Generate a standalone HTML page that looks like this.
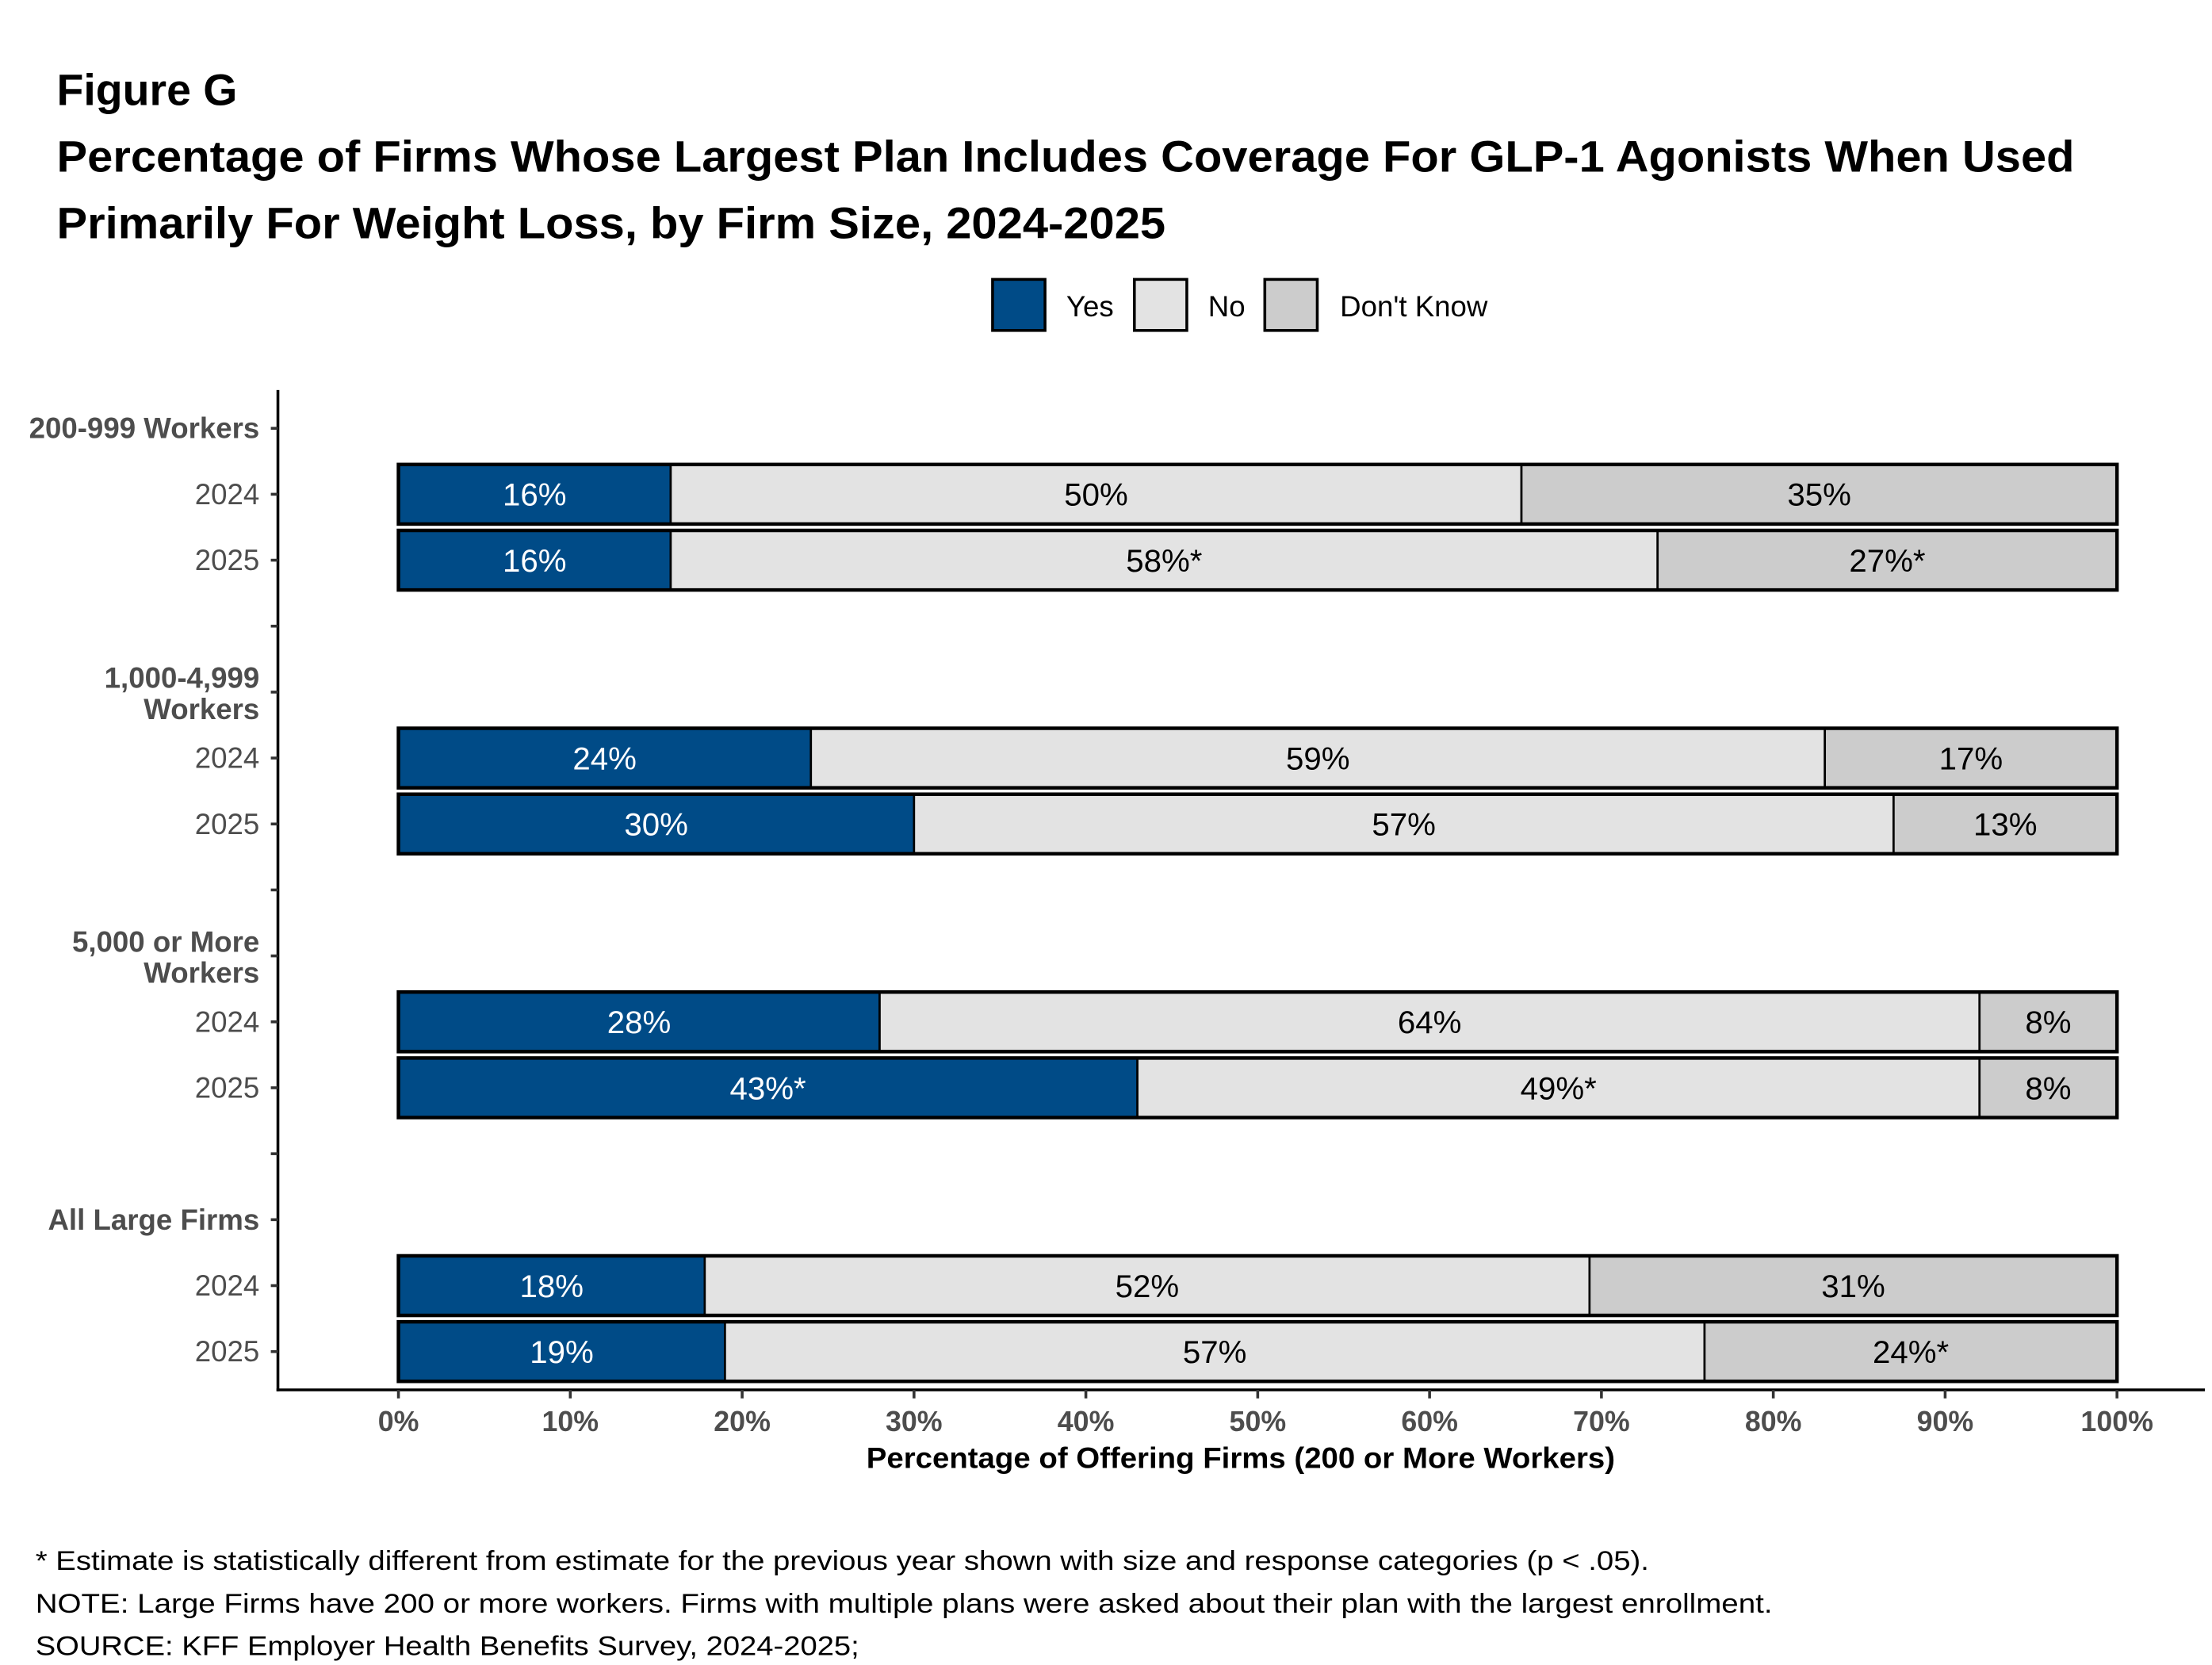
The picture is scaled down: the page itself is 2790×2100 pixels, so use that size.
<!DOCTYPE html>
<html><head><meta charset="utf-8"><style>
html,body{margin:0;padding:0;background:#fff;}
svg{display:block;font-family:"Liberation Sans",Arial,sans-serif;}
</style></head><body>
<svg id="chart" width="2790" height="2100" viewBox="0 0 1560 1174" preserveAspectRatio="none" xmlns="http://www.w3.org/2000/svg">
<g font-weight="bold" fill="#000" font-size="31">
<text x="40" y="74">Figure G</text>
<text x="40" y="121" textLength="1423" lengthAdjust="spacingAndGlyphs">Percentage of Firms Whose Largest Plan Includes Coverage For GLP-1 Agonists When Used</text>
<text x="40" y="168" textLength="782" lengthAdjust="spacingAndGlyphs">Primarily For Weight Loss, by Firm Size, 2024-2025</text>
</g>
<g font-size="20.5" fill="#000">
<rect x="700" y="197" width="37" height="36" fill="#004b87" stroke="#000" stroke-width="2"/>
<text x="752" y="223">Yes</text>
<rect x="800" y="197" width="37" height="36" fill="#e3e3e3" stroke="#000" stroke-width="2"/>
<text x="852" y="223">No</text>
<rect x="892" y="197" width="37" height="36" fill="#cccccc" stroke="#000" stroke-width="2"/>
<text x="945" y="223">Don't Know</text>
</g>
<g id="plot"></g>
<g font-size="19" fill="#000">
<text x="25" y="1107" textLength="1138" lengthAdjust="spacingAndGlyphs">* Estimate is statistically different from estimate for the previous year shown with size and response categories (p &lt; .05).</text>
<text x="25" y="1137" textLength="1225" lengthAdjust="spacingAndGlyphs">NOTE: Large Firms have 200 or more workers.  Firms with multiple plans were asked about their plan with the largest enrollment.</text>
<text x="25" y="1167" textLength="581" lengthAdjust="spacingAndGlyphs">SOURCE: KFF Employer Health Benefits Survey, 2024-2025;</text>
</g>
</svg>
<script>
const groups = ["200-999 Workers", "1,000-4,999|Workers", "5,000 or More|Workers", "All Large Firms"];
const years = ["2024", "2025"];
const yesVals = [16, 16, 24, 30, 28, 43, 18, 19];
const noVals = [50, 58, 59, 57, 64, 49, 52, 57];
const dkVals = [35, 27, 17, 13, 8, 8, 31, 24];
const yesStars = [false, false, false, false, false, true, false, false];
const noStars = [false, true, false, false, false, true, false, false];
const dkStars = [false, true, false, false, false, false, false, true];
const xTicks = [0, 10, 20, 30, 40, 50, 60, 70, 80, 90, 100];

const NS = "http://www.w3.org/2000/svg";
const plot = document.getElementById("plot");
const x = v => 281 + v * (1493 - 281) / 100;
const slot = k => 302 + k * 46.5;
function mk(tag, attrs, parent) {
  const e = document.createElementNS(NS, tag);
  for (const k in attrs) e.setAttribute(k, attrs[k]);
  (parent || plot).appendChild(e);
  return e;
}
let ax = mk("line", {x1: 196, y1: 275, x2: 196, y2: 981, stroke: "#000", "stroke-width": 2});


ax = mk("line", {x1: 195, y1: 980, x2: 1555, y2: 980, stroke: "#000", "stroke-width": 2});


for (let k = 0; k <= 14; k++) {
  const t = mk("line", {x1: 191, y1: slot(k), x2: 196, y2: slot(k), stroke: "#333", "stroke-width": 2});
  
  
}
groups.forEach((g, gi) => {
  const y = slot(gi * 4);
  const lines = g.split("|");
  const t = mk("text", {x: 183, "text-anchor": "end", "font-size": 20.5, "font-weight": "bold", fill: "#4d4d4d"});
  
  
  if (lines.length === 1) {
    t.setAttribute("y", y + 7);
    t.textContent = lines[0];
  } else {
    lines.forEach((l, li) => {
      const ts = mk("tspan", {x: 183, y: y - 3 + li * 22}, t);
      ts.textContent = l;
    });
  }
});
for (let i = 0; i < yesVals.length; i++) {
  const gi = Math.floor(i / 2), yi = i % 2;
  const cy = slot(gi * 4 + 1 + yi);
  const lbl = mk("text", {x: 183, y: cy + 7, "text-anchor": "end", "font-size": 20.5, fill: "#4d4d4d"});
  
  
  lbl.textContent = years[yi];
  const vals = [yesVals[i], noVals[i], dkVals[i]];
  const stars = [yesStars[i], noStars[i], dkStars[i]];
  const tot = vals[0] + vals[1] + vals[2];
  const fills = ["#004b87", "#e3e3e3", "#cccccc"];
  const names = ["bar-yes", "bar-no", "bar-dont-know"];
  let cum = 0;
  const h = 42;
  for (let s = 0; s < 3; s++) {
    const v = vals[s] * 100 / tot;
    const x0 = x(cum), x1 = x(cum + v);
    const r = mk("rect", {x: x0, y: cy - h / 2, width: x1 - x0, height: h, fill: fills[s], stroke: "#000", "stroke-width": 1.5});
    
    
    const t = mk("text", {x: (x0 + x1) / 2, y: cy + 8, "text-anchor": "middle", "font-size": 22.5, fill: s === 0 ? "#fff" : "#000"});
    
    
    t.textContent = vals[s] + "%" + (stars[s] ? "*" : "");
    cum += v;
  }
  const o = mk("rect", {x: x(0), y: cy - h / 2, width: x(100) - x(0), height: h, fill: "none", stroke: "#000", "stroke-width": 2.5});
  
  
}
xTicks.forEach(v => {
  const t = mk("line", {x1: x(v), y1: 980, x2: x(v), y2: 986, stroke: "#333", "stroke-width": 2});
  
  
  const l = mk("text", {x: x(v), y: 1009, "text-anchor": "middle", "font-size": 20, "font-weight": "bold", fill: "#4d4d4d"});
  
  
  l.textContent = v + "%";
});
const xt = mk("text", {x: 611, y: 1035, "font-size": 20.5, "font-weight": "bold", fill: "#000", textLength: 528, lengthAdjust: "spacingAndGlyphs"});


xt.textContent = "Percentage of Offering Firms (200 or More Workers)";
</script>
</body></html>
